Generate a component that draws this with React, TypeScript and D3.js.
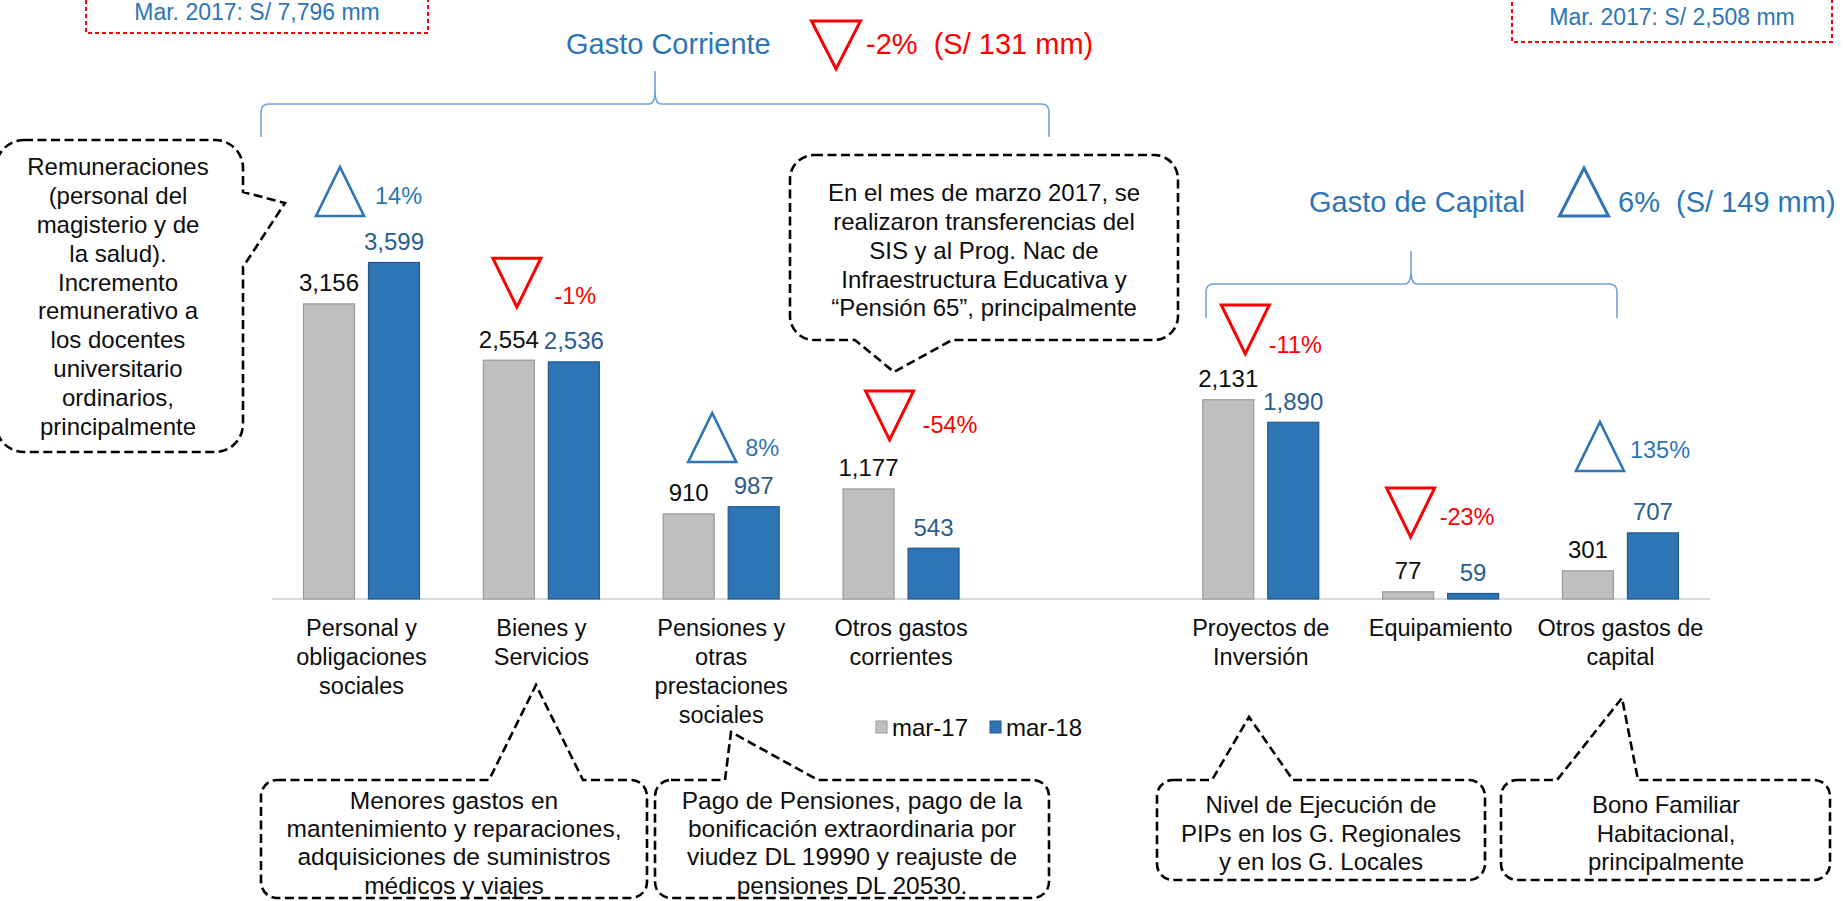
import React from "react";
import * as d3 from "d3";

// ---------- DATA ----------
const categories = [
  "Personal y obligaciones sociales",
  "Bienes y Servicios",
  "Pensiones y otras prestaciones sociales",
  "Otros gastos corrientes",
  "Proyectos de Inversión",
  "Equipamiento",
  "Otros gastos de capital",
];
const categoryLines = [
  ["Personal y", "obligaciones", "sociales"],
  ["Bienes y", "Servicios"],
  ["Pensiones y", "otras", "prestaciones", "sociales"],
  ["Otros gastos", "corrientes"],
  ["Proyectos de", "Inversión"],
  ["Equipamiento"],
  ["Otros gastos de", "capital"],
];
const series = ["mar-17", "mar-18"];
const mar17 = [3156, 2554, 910, 1177, 2131, 77, 301];
const mar18 = [3599, 2536, 987, 543, 1890, 59, 707];
const changePct = [14, -1, 8, -54, -11, -23, 135];

const groupTitles = ["Gasto Corriente", "Gasto de Capital"];
const groupChangePct = [-2, 6];
const groupChangeAmt = ["S/ 131 mm", "S/ 149 mm"];
const groupBase = ["Mar. 2017: S/ 7,796 mm", "Mar. 2017: S/ 2,508 mm"];

const calloutTexts = [
  ["Remuneraciones", "(personal del", "magisterio y de", "la salud).", "Incremento", "remunerativo a", "los docentes", "universitario", "ordinarios,", "principalmente"],
  ["En el mes de marzo 2017, se", "realizaron transferencias del", "SIS y al Prog. Nac de", "Infraestructura Educativa y", "\u201CPensión 65\u201D, principalmente"],
  ["Menores gastos en", "mantenimiento y reparaciones,", "adquisiciones de suministros", "médicos y viajes"],
  ["Pago de Pensiones, pago de la", "bonificación extraordinaria por", "viudez DL 19990 y reajuste de", "pensiones DL 20530."],
  ["Nivel de Ejecución de", "PIPs en los G. Regionales", "y en los G. Locales"],
  ["Bono Familiar", "Habitacional,", "principalmente"],
];

// ---------- LAYOUT / STYLE ----------
const W = 1845;
const H = 901;
const FONT = "'Liberation Sans', Arial, Helvetica, sans-serif";
const GRAY = "#BFBFBF";
const GRAY_STROKE = "#9A9A9A";
const BLUE = "#2E75B6";
const BLUE_STROKE = "#22598C";
const BLUE_LABEL = "#2A5D8F";
const BRACE = "#6FA2D8";
const RED = "#FF0000";

// annotation offsets (triangle/percent) per category
const annotLayout = [
  { dx: -21.5, gap: 46.5, tdx: 13.5, tdy: -20 },
  { dx: -24.5, gap: 53, tdx: 13, tdy: -11 },
  { dx: -9, gap: 44.7, tdx: 24, tdy: -14 },
  { dx: -11.5, gap: 49, tdx: 21.5, tdy: -15 },
  { dx: -15.5, gap: 45.8, tdx: 8, tdy: -9 },
  { dx: -30, gap: 54.8, tdx: -1, tdy: -20 },
  { dx: -20.5, gap: 61.9, tdx: 9.5, tdy: -21 },
];

const calloutLayout = [
  { x0: -4, y0: 140, x1: 243, y1: 452, r: 28, side: "right", a: 192, b: 267, tx: 285, ty: 203, cx: 118, cy: 167, lh: 28.8, fs: 24 },
  { x0: 790, y0: 155, x1: 1178, y1: 340, r: 24, side: "bottom", a: 855, b: 952, tx: 894, ty: 372, cx: 984, cy: 193, lh: 28.7, fs: 24 },
  { x0: 261, y0: 780, x1: 647, y1: 898, r: 16, side: "top", a: 489, b: 583, tx: 536, ty: 685, cx: 454, cy: 800, lh: 28.4, fs: 24.5 },
  { x0: 655, y0: 780, x1: 1049, y1: 898, r: 16, side: "top", a: 725, b: 818, tx: 731, ty: 732, cx: 852, cy: 800, lh: 28.4, fs: 24.5 },
  { x0: 1157, y0: 780, x1: 1485, y1: 880, r: 16, side: "top", a: 1212, b: 1293, tx: 1249, ty: 717, cx: 1321, cy: 805, lh: 28.5, fs: 24 },
  { x0: 1501, y0: 780, x1: 1830, y1: 880, r: 16, side: "top", a: 1557, b: 1638, tx: 1622, ty: 698, cx: 1666, cy: 805, lh: 28.5, fs: 24 },
];

function calloutPath(c: any) {
  const { x0, y0, x1, y1, r } = c;
  let d = `M${x0 + r},${y0}`;
  if (c.side === "top") d += `L${c.a},${y0}L${c.tx},${c.ty}L${c.b},${y0}`;
  d += `L${x1 - r},${y0}A${r},${r} 0 0 1 ${x1},${y0 + r}`;
  if (c.side === "right") d += `L${x1},${c.a}L${c.tx},${c.ty}L${x1},${c.b}`;
  d += `L${x1},${y1 - r}A${r},${r} 0 0 1 ${x1 - r},${y1}`;
  if (c.side === "bottom") d += `L${c.b},${y1}L${c.tx},${c.ty}L${c.a},${y1}`;
  d += `L${x0 + r},${y1}A${r},${r} 0 0 1 ${x0},${y1 - r}L${x0},${y0 + r}A${r},${r} 0 0 1 ${x0 + r},${y0}Z`;
  return d;
}

function bracePath(x0: number, x1: number, tip: number, yTop: number, yH: number, yEnd: number) {
  const r = 8;
  const k = 6;
  return (
    `M${x0},${yEnd}L${x0},${yH + r}Q${x0},${yH} ${x0 + r},${yH}` +
    `L${tip - k},${yH}Q${tip},${yH} ${tip},${yH - 14}L${tip},${yTop}` +
    `M${tip},${yH - 14}Q${tip},${yH} ${tip + k},${yH}` +
    `L${x1 - r},${yH}Q${x1},${yH} ${x1},${yH + r}L${x1},${yEnd}`
  );
}

function triPath(cx: number, top: number, w: number, h: number, up: boolean) {
  if (up) return `M${cx},${top}L${cx + w / 2},${top + h}L${cx - w / 2},${top + h}Z`;
  return `M${cx - w / 2},${top}L${cx + w / 2},${top}L${cx},${top + h}Z`;
}

const fmt = d3.format(",");

export default function App() {
  const domain = [...categories.slice(0, 4), "__gap__", ...categories.slice(4)];
  const x = d3.scaleBand<string>().domain(domain).range([271.6, 1710.4]).paddingInner(0).paddingOuter(0);
  const x1 = d3.scaleBand<string>().domain(series).range([31.4, 148.4]).paddingInner(0.2);
  const y = d3.scaleLinear().domain([0, 4000]).range([599, 225]);
  const baseY = y(0);
  const values = [mar17, mar18];

  const titleLayout = [
    { tx: 566, ty: 44, triCx: 836, triTop: 21, triH: 48, textX: 866, up: false },
    { tx: 1309, ty: 202, triCx: 1584, triTop: 168, triH: 48, textX: 1618, up: true },
  ];
  const baseBoxes = [
    { x: 86, y: -10, w: 342, h: 43, cy: 12 },
    { x: 1512, y: -10, w: 320, h: 52, cy: 17 },
  ];

  return (
    <svg width={W} height={H} style={{ position: "absolute", left: 0, top: 0, background: "#fff" }} fontFamily={FONT}>
      <rect x={0} y={0} width={W} height={H} fill="#fff" />

      {/* baseline */}
      <line x1={x.range()[0]} x2={x.range()[1]} y1={baseY} y2={baseY} stroke="#D9D9D9" strokeWidth={2} />

      {/* bars */}
      {categories.map((c, i) => (
        <g key={c} transform={`translate(${x(c)},0)`}>
          {series.map((s, j) => {
            const v = values[j][i];
            return (
              <rect
                key={s}
                x={x1(s)! + 0.5}
                y={y(v)}
                width={x1.bandwidth() - 1}
                height={baseY - y(v)}
                fill={j === 0 ? GRAY : BLUE}
                stroke={j === 0 ? GRAY_STROKE : BLUE_STROKE}
                strokeWidth={1.2}
              />
            );
          })}
          {series.map((s, j) => {
            const v = values[j][i];
            return (
              <text
                key={s + "l"}
                x={x1(s)! + x1.bandwidth() / 2}
                y={y(v) - 12.5}
                textAnchor="middle"
                fontSize={24}
                fill={j === 0 ? "#0D0D0D" : BLUE_LABEL}
              >
                {fmt(v)}
              </text>
            );
          })}
        </g>
      ))}

      {/* category labels */}
      {categories.map((c, i) => (
        <text key={c + "cat"} x={x(c)! + x.bandwidth() / 2} textAnchor="middle" fontSize={23.5} fill="#0D0D0D">
          {categoryLines[i].map((ln, k) => (
            <tspan key={k} x={x(c)! + x.bandwidth() / 2} y={628 + k * 29 + 8.3}>
              {ln}
            </tspan>
          ))}
        </text>
      ))}

      {/* change triangles */}
      {categories.map((c, i) => {
        const L = annotLayout[i];
        const cx = x(c)! + x.bandwidth() / 2;
        const top = Math.min(y(mar17[i]), y(mar18[i]));
        const triBottom = top - L.gap;
        const triH = 49;
        const up = changePct[i] >= 0;
        const col = up ? BLUE : RED;
        return (
          <g key={c + "tri"}>
            <path d={triPath(cx + L.dx, triBottom - triH, 48, triH, up)} fill="none" stroke={col} strokeWidth={up ? 2.6 : 3} strokeLinejoin="miter" />
            <text x={cx + L.tdx} y={triBottom + L.tdy + 8.2} fontSize={23.5} fill={col}>
              {`${changePct[i]}%`}
            </text>
          </g>
        );
      })}

      {/* group braces */}
      <path d={bracePath(261, 1049, 655, 71, 104, 137)} fill="none" stroke={BRACE} strokeWidth={1.6} />
      <path d={bracePath(1206, 1617, 1411, 251, 284, 318)} fill="none" stroke={BRACE} strokeWidth={1.6} />

      {/* group titles */}
      {groupTitles.map((t, i) => {
        const L = titleLayout[i];
        const up = groupChangePct[i] >= 0;
        const col = up ? BLUE : RED;
        return (
          <g key={t}>
            <text x={L.tx} y={L.ty + 10.3} fontSize={29} fill={BLUE}>
              {t}
            </text>
            <path d={triPath(L.triCx, L.triTop, 49, L.triH, up)} fill="none" stroke={col} strokeWidth={3} />
            <text x={L.textX} y={L.ty + 10.3} fontSize={29} fill={col} style={{ whiteSpace: "pre" }}>
              {`${groupChangePct[i]}%  (${groupChangeAmt[i]})`}
            </text>
          </g>
        );
      })}

      {/* base boxes */}
      {groupBase.map((t, i) => {
        const b = baseBoxes[i];
        return (
          <g key={t}>
            <rect x={b.x} y={b.y} width={b.w} height={b.h} fill="none" stroke={RED} strokeWidth={2} strokeDasharray="4 3" />
            <text x={b.x + b.w / 2} y={b.cy + 8} textAnchor="middle" fontSize={23} fill={BLUE}>
              {t}
            </text>
          </g>
        );
      })}

      {/* callouts */}
      {calloutLayout.map((c, i) => (
        <g key={"co" + i}>
          <path d={calloutPath(c)} fill="#fff" stroke="#000" strokeWidth={2.6} strokeDasharray="9 4.5" />
          <text textAnchor="middle" fontSize={c.fs} fill="#0D0D0D">
            {calloutTexts[i].map((ln, k) => (
              <tspan key={k} x={c.cx} y={c.cy + k * c.lh + c.fs * 0.35}>
                {ln}
              </tspan>
            ))}
          </text>
        </g>
      ))}

      {/* legend */}
      {series.map((s, j) => {
        const lx = [876, 990][j];
        return (
          <g key={s + "leg"}>
            <rect x={lx} y={721} width={11} height={12} fill={j === 0 ? GRAY : BLUE} stroke={j === 0 ? GRAY_STROKE : BLUE_STROKE} strokeWidth={1} />
            <text x={lx + 16} y={735.5} fontSize={24} fill="#0D0D0D">
              {s}
            </text>
          </g>
        );
      })}
    </svg>
  );
}
